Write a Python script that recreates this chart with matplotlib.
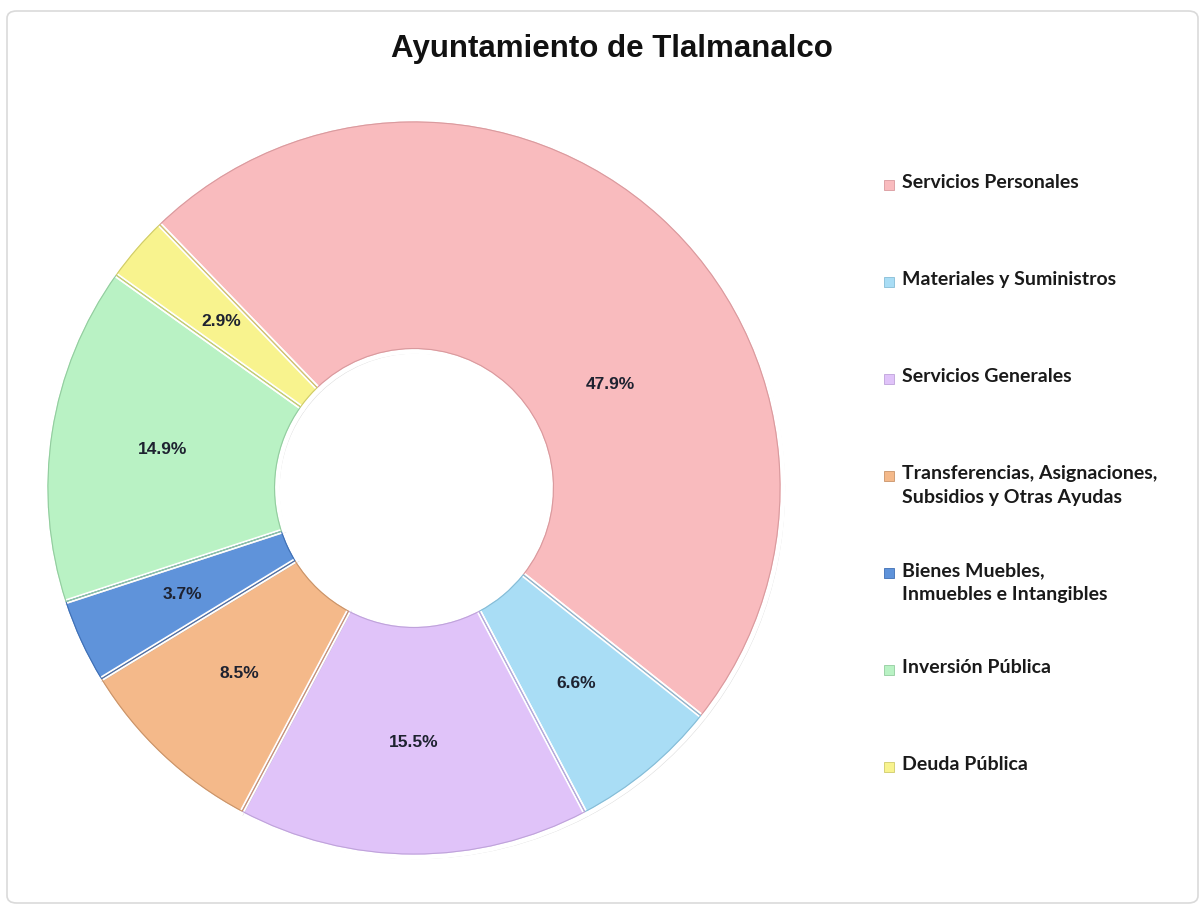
import numpy as np
import matplotlib
matplotlib.use("Agg")
import matplotlib.pyplot as plt
from matplotlib.patches import FancyBboxPatch, Rectangle
import matplotlib.patheffects as pe

title = "Ayuntamiento de Tlalmanalco"
categories = ["Servicios Personales", "Materiales y Suministros", "Servicios Generales",
              "Transferencias, Asignaciones,\nSubsidios y Otras Ayudas",
              "Bienes Muebles,\nInmuebles e Intangibles", "Inversión Pública", "Deuda Pública"]
values = [47.9, 6.6, 15.5, 8.5, 3.7, 14.9, 2.9]
colors = ["#F9BBBE", "#A9DDF5", "#E0C3F9", "#F4B98A", "#5F93DA", "#B9F2C4", "#F8F38E"]
edge_colors = ["#D99A9E", "#86BCD6", "#BFA3DA", "#C9946A", "#3F6FB4", "#93CC9F", "#CFCB6A"]

W, H = 1203, 914
fig = plt.figure(figsize=(W / 100, H / 100), dpi=100)
fig.patch.set_facecolor("white")

# outer frame
frame = FancyBboxPatch((7 / W, 11 / H), (1191 / W), (892 / H),
                       boxstyle="round,pad=0,rounding_size=0.008",
                       transform=fig.transFigure, facecolor="none",
                       edgecolor="#DADADA", linewidth=1.2, zorder=-1)
fig.patches.append(frame)

cx, cy, R = 414, 488, 369
ax = fig.add_axes([(cx - R) / W, (H - cy - R) / H, 2 * R / W, 2 * R / H])
ax.set_zorder(2)
ax.patch.set_alpha(0)

wedges, _ = ax.pie(values, colors=colors, startangle=134, counterclock=False,
                   radius=1.0,
                   wedgeprops=dict(width=0.630, edgecolor="white", linewidth=3.5))
for w in wedges:
    w.set_path_effects([pe.SimplePatchShadow(offset=(1.5, -1.5), shadow_rgbFace="#9A9A9A", alpha=0.35),
                        pe.Normal()])

# inner bevel outlines
outl, _ = ax.pie(values, colors=colors, startangle=134, counterclock=False,
                 radius=0.992, wedgeprops=dict(width=0.614, linewidth=0.8))
for w, ec in zip(outl, edge_colors):
    w.set_edgecolor(ec)
    w.set_facecolor("none")

ax.set_xlim(-1, 1)
ax.set_ylim(-1, 1)
ax.axis("off")

# percentage labels
total = sum(values)
start = 134.0
label_r = 0.69
for i, v in enumerate(values):
    mid = start - (sum(values[:i]) + v / 2) / total * 360
    r = label_r
    if i == 0:
        mid -= 20
        r = 0.60
    ang = np.deg2rad(mid)
    ax.text(r * np.cos(ang), r * np.sin(ang), f"{v:.1f}%", ha="center", va="center",
            fontsize=12.5, fontweight="bold", color="#1E2230",
            family=["Liberation Sans Narrow", "Liberation Sans"])

fig.text(612 / W, 1 - 49 / H, title, ha="center", va="center", fontsize=22.5,
         fontweight="bold", family="Liberation Sans", color="#111111")

# legend
for i, (lab, c) in enumerate(zip(categories, colors)):
    y = 185 + 97 * i
    fig.patches.append(Rectangle((884 / W, 1 - (y + 5) / H), 10 / W, 10 / H,
                                 transform=fig.transFigure, facecolor=c,
                                 edgecolor=edge_colors[i], linewidth=0.6))
    fig.text(902 / W, 1 - (y - 11) / H, lab, ha="left", va="top", fontsize=14,
             fontweight="bold", family="Lato", color="#1A1A1A", linespacing=1.5)

fig.savefig("out.png", dpi=100, facecolor="white")
